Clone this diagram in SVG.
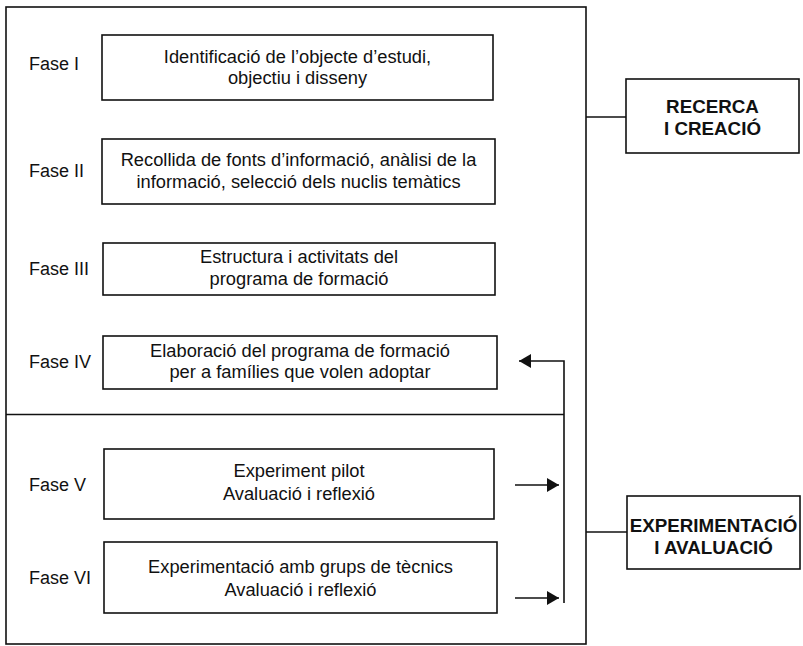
<svg xmlns="http://www.w3.org/2000/svg" width="803" height="646" viewBox="0 0 803 646">
<style>
  .box { fill: #ffffff; stroke: #111111; stroke-width: 1.6; }
  .frame { fill: none; stroke: #111111; stroke-width: 1.6; }
  .t { font-family: "Liberation Sans", Arial, Helvetica, sans-serif; font-size: 18.3px; fill: #111111; text-anchor: middle; }
  .f { font-family: "Liberation Sans", Arial, Helvetica, sans-serif; font-size: 18px; fill: #111111; }
  .b { font-family: "Liberation Sans", Arial, Helvetica, sans-serif; font-size: 18.8px; font-weight: bold; fill: #111111; text-anchor: middle; }
  .c { fill: none; stroke: #111111; stroke-width: 1.6; }
</style>
<defs>
  <marker id="ah" viewBox="0 0 12 14" refX="12" refY="7" markerWidth="12" markerHeight="14" markerUnits="userSpaceOnUse" orient="auto">
    <path d="M0,0 L12,7 L0,14 Z" fill="#111111"/>
  </marker>
</defs>
<rect width="803" height="646" fill="#ffffff"/>

<g id="frame">
  <rect class="frame" x="6" y="7" width="580" height="637"/>
  <line class="frame" x1="6" y1="414.5" x2="564" y2="414.5"/>
</g>

<g id="fase1">
  <text class="f" x="29" y="70">Fase I</text>
  <rect class="box" x="102" y="35" width="391" height="65"/>
  <text class="t" x="297.5" y="63">Identificació de l’objecte d’estudi,</text>
  <text class="t" x="297.5" y="84">objectiu i disseny</text>
</g>

<g id="fase2">
  <text class="f" x="29" y="177">Fase II</text>
  <rect class="box" x="102" y="139" width="393" height="65"/>
  <text class="t" x="298.5" y="166">Recollida de fonts d’informació, anàlisi de la</text>
  <text class="t" x="298.5" y="188">informació, selecció dels nuclis temàtics</text>
</g>

<g id="fase3">
  <text class="f" x="29" y="275">Fase III</text>
  <rect class="box" x="103" y="243" width="392" height="52"/>
  <text class="t" x="299" y="263">Estructura i activitats del</text>
  <text class="t" x="299" y="285">programa de formació</text>
</g>

<g id="fase4">
  <text class="f" x="29" y="368">Fase IV</text>
  <rect class="box" x="103" y="336" width="394" height="53"/>
  <text class="t" x="300" y="357">Elaboració del programa de formació</text>
  <text class="t" x="300" y="378">per a famílies que volen adoptar</text>
</g>

<g id="fase5">
  <text class="f" x="29" y="491">Fase V</text>
  <rect class="box" x="104" y="449" width="390" height="70"/>
  <text class="t" x="299" y="477">Experiment pilot</text>
  <text class="t" x="299" y="500">Avaluació i reflexió</text>
</g>

<g id="fase6">
  <text class="f" x="29" y="584">Fase VI</text>
  <rect class="box" x="104" y="542" width="393" height="71"/>
  <text class="t" x="300.5" y="573">Experimentació amb grups de tècnics</text>
  <text class="t" x="300.5" y="596">Avaluació i reflexió</text>
</g>

<g id="recerca">
  <rect class="box" x="626" y="79" width="173" height="74"/>
  <text class="b" x="712.5" y="113">RECERCA</text>
  <text class="b" x="712.5" y="135">I CREACIÓ</text>
</g>

<g id="experimentacio">
  <rect class="box" x="627" y="496" width="173" height="73"/>
  <text class="b" x="713.5" y="532">EXPERIMENTACIÓ</text>
  <text class="b" x="713.5" y="554">I AVALUACIÓ</text>
</g>

<g id="connectors">
  <path class="c" d="M564,603 L564,361 L519,361" marker-end="url(#ah)"/>
  <line class="c" x1="515" y1="485" x2="559" y2="485" marker-end="url(#ah)"/>
  <line class="c" x1="515" y1="598" x2="559" y2="598" marker-end="url(#ah)"/>
  <line class="c" x1="586" y1="117" x2="626" y2="117"/>
  <line class="c" x1="586" y1="532" x2="627" y2="532"/>
</g>
</svg>
